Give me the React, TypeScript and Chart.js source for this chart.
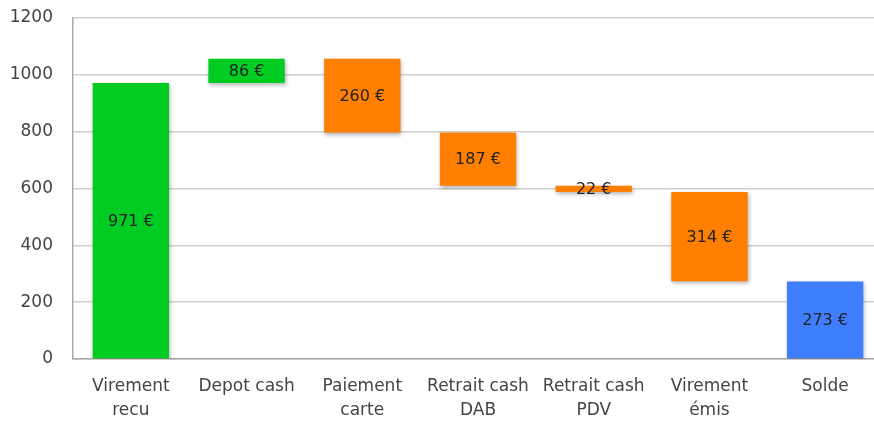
import React, { useEffect, useRef } from "react";
import { Chart, registerables } from "chart.js";

Chart.register(...registerables);

const categories: string[][] = [
  ["Virement", "recu"],
  ["Depot cash"],
  ["Paiement", "carte"],
  ["Retrait cash", "DAB"],
  ["Retrait cash", "PDV"],
  ["Virement", "émis"],
  ["Solde"],
];
const amounts: number[] = [971, 86, -260, -187, -22, -314, 273];
const isTotal: boolean[] = [false, false, false, false, false, false, true];
const barColors: string[] = ["#00cc22", "#00cc22", "#ff7f00", "#ff7f00", "#ff7f00", "#ff7f00", "#3f7fff"];
const yTicks: number[] = [0, 200, 400, 600, 800, 1000, 1200];

const FONT = "'DejaVu Sans', sans-serif";

function buildRanges(): [number, number][] {
  const out: [number, number][] = [];
  let running = 0;
  amounts.forEach((v, i) => {
    if (isTotal[i]) {
      out.push([0, v]);
    } else {
      out.push([running, running + v]);
      running += v;
    }
  });
  return out;
}

const shadowPlugin = {
  id: "barShadow",
  beforeDatasetDraw(chart: any) {
    const ctx = chart.ctx;
    ctx.save();
    ctx.shadowColor = "rgba(0,0,0,0.3)";
    ctx.shadowBlur = 4;
    ctx.shadowOffsetX = 1;
    ctx.shadowOffsetY = 2;
  },
  afterDatasetDraw(chart: any) {
    chart.ctx.restore();
  },
};

const labelPlugin = {
  id: "valueLabels",
  afterDatasetsDraw(chart: any) {
    const ctx = chart.ctx;
    const meta = chart.getDatasetMeta(0);
    ctx.save();
    ctx.font = `16px ${FONT}`;
    ctx.fillStyle = "#222";
    ctx.textAlign = "center";
    ctx.textBaseline = "middle";
    meta.data.forEach((bar: any, i: number) => {
      const p = bar.getProps(["x", "y", "base"], true);
      const cy = (p.y + p.base) / 2;
      ctx.fillText(`${Math.abs(amounts[i])} €`, p.x, cy + 1);
    });
    ctx.restore();
  },
};

export default function App() {
  const ref = useRef<HTMLCanvasElement | null>(null);
  useEffect(() => {
    if (!ref.current) return;
    const chart = new Chart(ref.current, {
      type: "bar",
      data: {
        labels: categories,
        datasets: [
          {
            data: buildRanges() as any,
            backgroundColor: barColors,
            borderWidth: 0,
            barPercentage: 0.66,
            categoryPercentage: 1,
          },
        ],
      },
      options: {
        responsive: false,
        animation: false,
        devicePixelRatio: 1,
        layout: { padding: { top: 18, right: 1, left: 0, bottom: 0 } },
        plugins: { legend: { display: false }, tooltip: { enabled: false } },
        scales: {
          x: {
            grid: { display: false, drawTicks: false },
            border: { display: true, color: "#aaa", width: 1.5 },
            ticks: {
              font: { family: FONT, size: 17, lineHeight: 1.4 },
              color: "#444",
              padding: 16,
              maxRotation: 0,
              autoSkip: false,
            },
            afterFit(scale: any) {
              scale.height = 62;
              scale.paddingLeft = 0;
              scale.paddingRight = 0;
            },
          },
          y: {
            min: 0,
            max: 1200,
            afterBuildTicks(scale: any) {
              scale.ticks = yTicks.map((v) => ({ value: v }));
            },
            grid: { color: "#cfcfcf", lineWidth: 1.5, drawTicks: false },
            border: { display: true, color: "#aaa", width: 1.5 },
            ticks: {
              font: { family: FONT, size: 17 },
              color: "#444",
              padding: 20,
              callback: (v: any) => String(v),
            },
            afterFit(scale: any) {
              scale.width = 73;
              scale.paddingTop = 0;
              scale.paddingBottom = 0;
            },
          },
        },
      },
      plugins: [shadowPlugin, labelPlugin],
    });
    return () => chart.destroy();
  }, []);
  return (
    <div style={{ position: "fixed", left: 0, top: 0, width: 874, height: 421, overflow: "hidden", background: "#fff" }}>
      <canvas ref={ref} width={884} height={421} style={{ display: "block" }} />
    </div>
  );
}
